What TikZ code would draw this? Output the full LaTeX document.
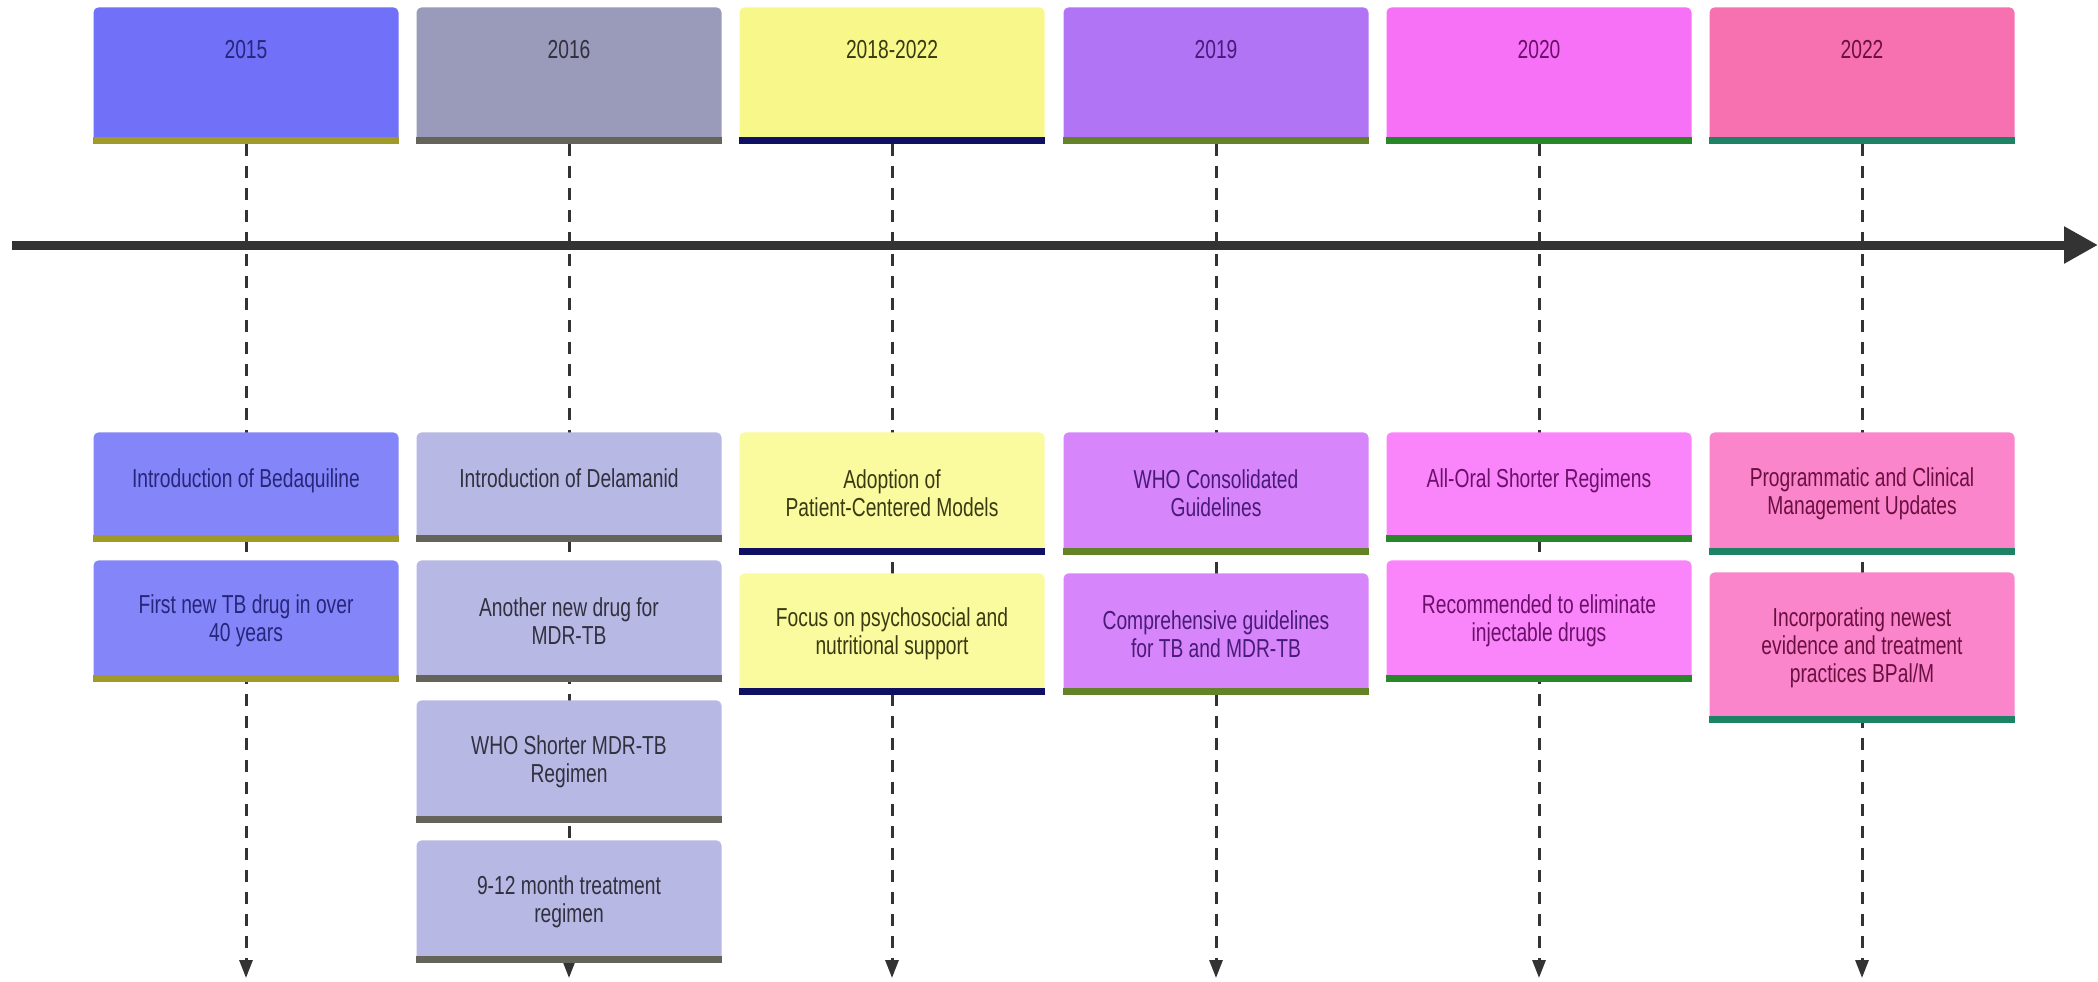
\documentclass[tikz,border=0pt]{standalone}
\usepackage{fontspec}
\setmainfont{Liberation Sans}[FakeStretch=0.74]
\usetikzlibrary{arrows.meta}
\pgfdeclarelayer{background}
\pgfsetlayers{background,main}

\definecolor{hA}{HTML}{7070F8}
\definecolor{hB}{HTML}{9A9ABA}
\definecolor{hC}{HTML}{F8F88A}
\definecolor{hD}{HTML}{B074F5}
\definecolor{hE}{HTML}{F771F7}
\definecolor{hF}{HTML}{F771B0}
\definecolor{eA}{HTML}{8585FA}
\definecolor{eB}{HTML}{B8B8E4}
\definecolor{eC}{HTML}{FAFA9E}
\definecolor{eD}{HTML}{D685FA}
\definecolor{eE}{HTML}{FA85FA}
\definecolor{eF}{HTML}{FA85CB}
\definecolor{bA}{HTML}{A09B28}
\definecolor{bB}{HTML}{64645A}
\definecolor{bC}{HTML}{0F0F64}
\definecolor{bD}{HTML}{648228}
\definecolor{bE}{HTML}{288728}
\definecolor{bF}{HTML}{1E8264}
\definecolor{tA}{HTML}{26267A}
\definecolor{tB}{HTML}{30303F}
\definecolor{tC}{HTML}{3A3A12}
\definecolor{tD}{HTML}{4A1A78}
\definecolor{tE}{HTML}{6A106A}
\definecolor{tF}{HTML}{6A1040}
\definecolor{ink}{HTML}{333333}

\tikzset{
  boxbase/.style={rectangle, rounded corners=2.5pt, inner sep=0pt,
    minimum width=152.5pt, anchor=north, align=center,
    font=\fontsize{13pt}{14pt}\selectfont},
  hdrbox/.style={boxbase, minimum height=68pt},
  yeartxt/.style={inner sep=0pt, font=\fontsize{13pt}{14pt}\selectfont},
  evbox/.style={boxbase},
  oneline/.style={text depth=9pt},
  tick/.style={draw=ink, line width=1.5pt, dash pattern=on 6pt off 5pt,
    -{Triangle[length=9pt,width=6.5pt]}},
  axisline/.style={draw=ink, line width=4.5pt,
    -{Triangle[length=17pt,width=17.5pt]}}
}

\begin{document}
\begin{tikzpicture}[x=0.5pt,y=-0.5pt]
\useasboundingbox (0,0) rectangle (2098,981);

% header boxes
\node[hdrbox, fill=hA] (h1) at (246,7) {};
\node[hdrbox, fill=hB] (h2) at (569,7) {};
\node[hdrbox, fill=hC] (h3) at (892,7) {};
\node[hdrbox, fill=hD] (h4) at (1216,7) {};
\node[hdrbox, fill=hE] (h5) at (1539,7) {};
\node[hdrbox, fill=hF] (h6) at (1862,7) {};
\fill[bA] ([yshift=3.5pt]h1.south west) rectangle (h1.south east);
\fill[bB] ([yshift=3.5pt]h2.south west) rectangle (h2.south east);
\fill[bC] ([yshift=3.5pt]h3.south west) rectangle (h3.south east);
\fill[bD] ([yshift=3.5pt]h4.south west) rectangle (h4.south east);
\fill[bE] ([yshift=3.5pt]h5.south west) rectangle (h5.south east);
\fill[bF] ([yshift=3.5pt]h6.south west) rectangle (h6.south east);
\node[yeartxt, text=tA] (y1) at (246,50) {2015};
\node[yeartxt, text=tB] (y2) at (569,50) {2016};
\node[yeartxt, text=tC] (y3) at (892,50) {2018-2022};
\node[yeartxt, text=tD] (y4) at (1216,50) {2019};
\node[yeartxt, text=tE] (y5) at (1539,50) {2020};
\node[yeartxt, text=tF] (y6) at (1862,50) {2022};

% column 1
\node[evbox, oneline, fill=eA, text=tA, minimum height=54.5pt] (e11) at (246,432) {Introduction of Bedaquiline};
\node[evbox, fill=eA, text=tA, minimum height=60.5pt] (e12) at (246,560) {First new TB drug in over\\40 years};
% column 2
\node[evbox, oneline, fill=eB, text=tB, minimum height=54.5pt] (e21) at (569,432) {Introduction of Delamanid};
\node[evbox, fill=eB, text=tB, minimum height=60.5pt] (e22) at (569,560) {Another new drug for\\MDR-TB};
\node[evbox, fill=eB, text=tB, minimum height=61pt] (e23) at (569,700) {WHO Shorter MDR-TB\\Regimen};
\node[evbox, fill=eB, text=tB, minimum height=61pt] (e24) at (569,840) {9-12 month treatment\\regimen};
% column 3
\node[evbox, fill=eC, text=tC, minimum height=61pt] (e31) at (892,432) {Adoption of\\Patient-Centered Models};
\node[evbox, fill=eC, text=tC, minimum height=60.5pt] (e32) at (892,573) {Focus on psychosocial and\\nutritional support};
% column 4
\node[evbox, fill=eD, text=tD, minimum height=61pt] (e41) at (1216,432) {WHO Consolidated\\Guidelines};
\node[evbox, fill=eD, text=tD, minimum height=60.5pt] (e42) at (1216,573) {Comprehensive guidelines\\for TB and MDR-TB};
% column 5
\node[evbox, oneline, fill=eE, text=tE, minimum height=54.5pt] (e51) at (1539,432) {All-Oral Shorter Regimens};
\node[evbox, fill=eE, text=tE, minimum height=60.5pt] (e52) at (1539,560) {Recommended to eliminate\\injectable drugs};
% column 6
\node[evbox, fill=eF, text=tF, minimum height=61pt] (e61) at (1862,432) {Programmatic and Clinical\\Management Updates};
\node[evbox, fill=eF, text=tF, minimum height=75pt] (e62) at (1862,572) {Incorporating newest\\evidence and treatment\\practices BPal/M};

% bands
\foreach \n/\c in {e11/bA,e12/bA,e21/bB,e22/bB,e23/bB,e24/bB,e31/bC,e32/bC,e41/bD,e42/bD,e51/bE,e52/bE,e61/bF,e62/bF}{
  \fill[\c] ([yshift=3.5pt]\n.south west) rectangle (\n.south east);
}

% connector ends
\coordinate (a0) at (12,245);
\coordinate (a1) at (2098,245);
\coordinate (z1) at (246,978);
\coordinate (z2) at (569,978);
\coordinate (z3) at (892,978);
\coordinate (z4) at (1216,978);
\coordinate (z5) at (1539,978);
\coordinate (z6) at (1862,978);

\begin{pgfonlayer}{background}
\fill[white] (0,0) rectangle (2098,981);
\draw[axisline] (a0) -- (a1);
\draw[tick] (h1.south) -- (z1);
\draw[tick] (h2.south) -- (z2);
\draw[tick] (h3.south) -- (z3);
\draw[tick] (h4.south) -- (z4);
\draw[tick] (h5.south) -- (z5);
\draw[tick] (h6.south) -- (z6);
\end{pgfonlayer}
\end{tikzpicture}
\end{document}
